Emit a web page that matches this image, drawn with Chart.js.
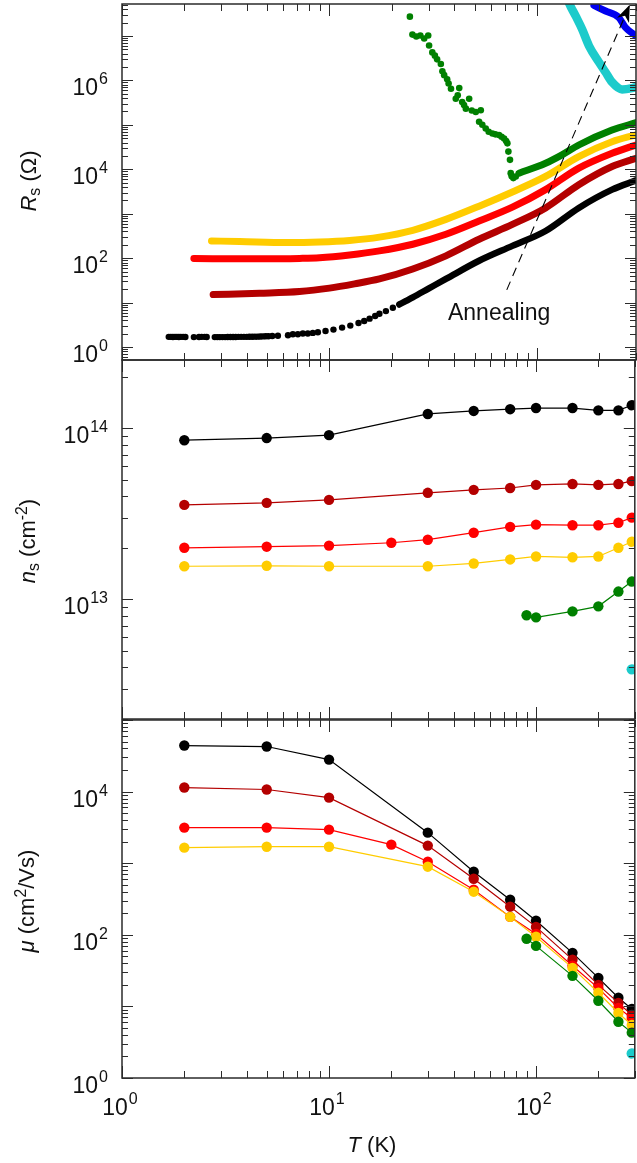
<!DOCTYPE html>
<html><head><meta charset="utf-8">
<script src="https://cdn.jsdelivr.net/npm/chart.js@4/dist/chart.umd.min.js"></script>
<style>
html,body{margin:0;padding:0;background:#fff;width:637px;height:1163px;overflow:hidden;position:relative;font-family:'Liberation Sans',Arial,Helvetica,sans-serif;}
canvas{position:absolute;left:0;}
.yt,.xt{position:absolute;font-size:22px;line-height:1;white-space:nowrap;color:#111;}
.yt{transform:translate(-50%,-50%) rotate(-90deg);}
.xt{transform:translate(-50%,-50%);}
sub{font-size:72%;vertical-align:-0.28em;line-height:0;}
sup{font-size:72%;vertical-align:0.5em;line-height:0;}
</style></head>
<body>
<canvas id="cA" width="640" height="370" style="top:0px"></canvas>
<canvas id="cB" width="640" height="380" style="top:350px"></canvas>
<canvas id="cC" width="640" height="453" style="top:710px"></canvas>
<div class="yt" style="left:29px;top:181px"><i>R</i><sub>s</sub> (Ω)</div>
<div class="yt" style="left:28px;top:541px"><i>n</i><sub>s</sub> (cm<sup>-2</sup>)</div>
<div class="yt" style="left:27px;top:901px"><i>μ</i> (cm<sup>2</sup>/Vs)</div>
<div class="xt" style="left:372px;top:1145px"><i>T</i> (K)</div>
<script>
// ---------------- DATA ----------------
// Panel 1: sheet resistance R_s (Ohm) vs T (K)
const T_black_dots = [1.68,1.72,1.76,1.8,1.84,1.88,1.92,1.97,2.02,2.22,2.35,2.42,2.5,2.56,2.8,2.88,2.96,3.05,3.14,3.23,3.33,3.43,3.53,3.64,3.75,3.87,3.99,4.11,4.24,4.37,4.5,4.64,4.78,4.93,5.08,5.3,5.64,6.31,6.66,7.04,7.44,7.86,8.31,8.79,9.57,10.45,11.5,12.6,13.8,14.7,15.6,16.6,17.4,18.7,20.2];
const R_black_dots = [1.70,1.70,1.69,1.70,1.70,1.69,1.70,1.70,1.69,1.68,1.69,1.70,1.70,1.69,1.68,1.68,1.68,1.68,1.68,1.69,1.69,1.69,1.69,1.70,1.70,1.70,1.70,1.71,1.71,1.72,1.72,1.73,1.74,1.75,1.76,1.78,1.80,1.85,1.95,1.95,2.02,2.02,2.09,2.16,2.31,2.48,2.75,3.05,3.49,3.87,4.37,5.0,5.65,6.46,7.69];
const T_black_R = [21.7,23.4,25.2,30,36.4,52.6,76.1,110,159,230,300];
const R_black = [9.1,11.0,13.2,20.7,34.1,87.5,189,409,1354,3486,5620];
const T_darkred_R = [2.75,4.6,7.17,10,13.2,17.4,25.2,36.4,52.6,76.1,110,159,230,300];
const R_darkred = [15.2,16.3,17.8,21.2,26.4,34.1,57.1,113,267,577,1354,4508,11550,17700];
const T_red_R = [2.22,4.13,7.17,8.95,12.5,17.4,25.2,36.4,52.6,76.1,110,159,230,300];
const R_red = [98,97.5,99,102,118,146,206,345,684,1403,3486,10590,22900,35200];
const T_yellow_R = [2.7,3.69,6.21,8.95,12.5,17.4,25.2,36.4,52.6,76.1,110,159,230,300];
const R_yellow = [244,238,226,232,251,298,424,746,1479,3085,6910,19300,41700,59800];
const T_green_scatter = [24.4,25.1,26.2,27.4,28.6,29.9,30.2,31.3,32.2,33.0,34.4,35.0,35.7,36.9,37.5,38.5,40.6,42.2,41.5,43.6,44.5,45.4,47.1,48.5,50.7,53.6,52.6,54.5,56.6,58.5,61.0,63.0,65.6,67.5,69.4,71.0,72.0,72.8,74.1,74.7,75.5,76.9,79.0];
const R_green_scatter = [2.71e7,1.07e7,9.7e6,1.02e7,8.75e6,1.02e7,6.1e6,4.26e6,3.6e6,2.97e6,2.33e6,1.6e6,1.31e6,1.06e6,8.5e5,6.46e5,3.87e5,6.7e5,4.6e5,3.26e5,2.8e5,2.31e5,3.87e5,2.1e5,1.95e5,2.13e5,1.17e5,1.0e5,8.26e4,7.0e4,6.4e4,6.1e4,5.89e4,5.4e4,4.94e4,4.3e4,3.83e4,2.5e4,1.63e4,8180,7000,6330,6900];
const T_green_R = [81.9,110,132,159,230,300];
const R_green = [8180,13700,21100,35200,76200,112000];
const T_cyan_R = [140,142.5,153.5,165,178,199,214,230,257,287,300];
const R_cyan = [7e7,5.57e7,2.81e7,1.41e7,6.0e6,2.55e6,1.52e6,9.1e5,6.27e5,6.7e5,7.1e5];
const T_blue_R = [188,214,248,267,300];
const R_blue = [4.84e7,3.63e7,2.58e7,1.54e7,1.0e7];
const T_arrow = [71.5,280];
const R_arrow = [19.4,5.0e7];
const annealLabel = {text:'Annealing', T:65.7, R:5.74};

// Panels 2 and 3: Hall data
const T_hall = [2,5,10,30,50,75,100,150,200,250,290];
const T_hall_red = [2,5,10,20,30,50,75,100,150,200,250,290];
const T_hall_green = [90,100,150,200,250,290];
const T_hall_cyan = [290];
const n_black = [8.5e13,8.75e13,9.1e13,1.21e14,1.26e14,1.29e14,1.31e14,1.31e14,1.27e14,1.27e14,1.36e14];
const n_darkred = [3.56e13,3.66e13,3.81e13,4.19e13,4.36e13,4.47e13,4.66e13,4.72e13,4.66e13,4.72e13,4.9e13];
const n_red = [2.0e13,2.03e13,2.06e13,2.14e13,2.23e13,2.45e13,2.65e13,2.73e13,2.71e13,2.71e13,2.8e13,3.0e13];
const n_yellow = [1.56e13,1.57e13,1.56e13,1.56e13,1.62e13,1.71e13,1.78e13,1.76e13,1.78e13,2.0e13,2.17e13];
const n_green = [8.07e12,7.85e12,8.5e12,9.1e12,1.11e13,1.27e13];
const n_cyan = [3.9e12];
const mu_black = [4.4e4,4.26e4,2.8e4,2670,760,309,157,56,25,13.2,9.2];
const mu_darkred = [1.14e4,1.07e4,8240,1760,607,247,129,45,20,11.2,7.6];
const mu_red = [3140,3140,2940,1815,1050,427,178,103,37,18,9.5,6.9];
const mu_yellow = [1650,1700,1700,894,400,178,94,34.5,15.5,8.1,5.5];
const mu_green = [88,70,26.7,12,6.1,4.3];
const mu_cyan = [2.2];

// tick label exponents
const xTickExps = [0,1,2];
const rTickExps = [0,2,4,6];
const nTickExps = [13,14];
const muTickExps = [0,2,4];

// ---------------- STYLE ----------------
const FONT = "'Liberation Sans', Arial, Helvetica, sans-serif";
const C = {black:'#000000', darkred:'#b40000', red:'#ff0000', yellow:'#ffcc00', green:'#008000', cyan:'#1ccbcb', blue:'#0000f0'};
const pts = (T,V) => T.map((t,i)=>({x:t,y:V[i]}));

function pow10(ctx, e, x, yBase, align){
  ctx.font = '23px '+FONT; const wb = ctx.measureText('10').width;
  ctx.font = '16px '+FONT; const we = ctx.measureText(String(e)).width;
  const total = wb + 1 + we;
  const x0 = align === 'right' ? x - total : x - total/2;
  ctx.font = '23px '+FONT; ctx.fillText('10', x0, yBase);
  ctx.font = '16px '+FONT; ctx.fillText(String(e), x0 + wb + 1, yBase - 11);
}

const framePlugin = {
  id:'sciFrame',
  afterDraw(chart){
    const o = chart.options.plugins.sciFrame; if(!o) return;
    const ctx = chart.ctx, a = chart.chartArea, xs = chart.scales.x, ys = chart.scales.y;
    const decTicks = s => { const out=[]; const e0=Math.floor(Math.log10(s.min)), e1=Math.ceil(Math.log10(s.max));
      for(let e=e0;e<=e1;e++) for(let m=1;m<=9;m++){ const v=m*Math.pow(10,e); if(v>=s.min*0.9999 && v<=s.max*1.0001) out.push([v,m===1]); } return out; };
    ctx.save();
    ctx.strokeStyle = '#2b2b2b'; ctx.lineWidth = 1;
    ctx.beginPath();
    for(const [v,maj] of decTicks(ys)){ const p=Math.round(ys.getPixelForValue(v))+0.5; const L=maj?11:6;
      ctx.moveTo(a.left,p); ctx.lineTo(a.left+L,p); ctx.moveTo(a.right,p); ctx.lineTo(a.right-L,p); }
    for(const [v,maj] of decTicks(xs)){ const p=Math.round(xs.getPixelForValue(v))+0.5; const L=maj?12:7;
      ctx.moveTo(p,a.top); ctx.lineTo(p,a.top+L); ctx.moveTo(p,a.bottom); ctx.lineTo(p,a.bottom-L); }
    ctx.stroke();
    ctx.lineWidth = 1.5; ctx.strokeRect(a.left, a.top, a.right-a.left, a.bottom-a.top);
    ctx.fillStyle = '#111'; ctx.textAlign = 'left'; ctx.textBaseline = 'alphabetic';
    for(const e of o.yExps){ const p=ys.getPixelForValue(Math.pow(10,e)); pow10(ctx,e,a.left-14,p+15,'right'); }
    if(o.xExps) for(const e of o.xExps){ const p=xs.getPixelForValue(Math.pow(10,e)); pow10(ctx,e,p-2,a.bottom+37,'center'); }
    ctx.restore();
  }
};

const annotPlugin = {
  id:'annot',
  afterDatasetsDraw(chart){
    const o = chart.options.plugins.annot; if(!o) return;
    const ctx = chart.ctx, xs = chart.scales.x, ys = chart.scales.y;
    const meta = chart.getDatasetMeta(o.arrowIndex);
    const p0 = meta.data[0], p1 = meta.data[1];
    const ang = Math.atan2(p1.y-p0.y, p1.x-p0.x);
    ctx.save();
    ctx.translate(p1.x,p1.y); ctx.rotate(ang);
    ctx.beginPath(); ctx.moveTo(0,0); ctx.lineTo(-17,-6.5); ctx.lineTo(-12,0); ctx.lineTo(-17,6.5); ctx.closePath();
    ctx.fillStyle = '#000'; ctx.fill();
    ctx.restore();
    ctx.save();
    ctx.font = '23px '+FONT; ctx.textAlign='center'; ctx.textBaseline='middle'; ctx.fillStyle='#111';
    ctx.fillText(o.text, xs.getPixelForValue(o.T), ys.getPixelForValue(o.R));
    ctx.restore();
  }
};

function thick(T,R,color,w,order){ return {data:pts(T,R), showLine:true, borderColor:color, backgroundColor:color, borderWidth:w, pointRadius:0, cubicInterpolationMode:'monotone', borderCapStyle:'round', borderJoinStyle:'round', order:order}; }
function dots(T,R,color,r,order){ return {data:pts(T,R), showLine:false, backgroundColor:color, borderColor:color, pointRadius:r, pointBorderWidth:0, order:order}; }
function hall(T,V,color,order){ return {data:pts(T,V), showLine:true, borderColor:color, backgroundColor:color, borderWidth:1.2, pointRadius:5.2, pointBorderWidth:0, pointBackgroundColor:color, order:order}; }

function baseOpts(ymin,ymax,pad,yExps,xExps,extra){
  return {
    responsive:false, animation:false, devicePixelRatio:1,
    layout:{padding:pad},
    scales:{
      x:{type:'logarithmic', min:1, max:300, display:false},
      y:{type:'logarithmic', min:ymin, max:ymax, display:false}
    },
    plugins:Object.assign({legend:{display:false}, tooltip:{enabled:false}, sciFrame:{yExps:yExps, xExps:xExps}}, extra||{})
  };
}

// Panel 1
const dsA = [
  dots(T_black_dots,R_black_dots,C.black,3.2,6),
  thick(T_black_R,R_black,C.black,6.5,6),
  thick(T_darkred_R,R_darkred,C.darkred,7,5),
  thick(T_red_R,R_red,C.red,7,4),
  thick(T_yellow_R,R_yellow,C.yellow,7,3),
  dots(T_green_scatter,R_green_scatter,C.green,3.3,2),
  thick(T_green_R,R_green,C.green,7,2),
  thick(T_cyan_R,R_cyan,C.cyan,8.5,1),
  thick(T_blue_R,R_blue,C.blue,7,1),
  {data:pts(T_arrow,R_arrow), showLine:true, borderColor:'#000', borderWidth:1.1, borderDash:[9,6], pointRadius:0, order:0}
];
new Chart(document.getElementById('cA'), {
  type:'scatter', data:{datasets:dsA},
  options: baseOpts(0.513, 5.22e7, {left:122,right:2,top:1,bottom:10}, rTickExps, null,
    {annot:{arrowIndex:9, text:annealLabel.text, T:annealLabel.T, R:annealLabel.R}}),
  plugins:[framePlugin, annotPlugin]
});

// Panel 2
new Chart(document.getElementById('cB'), {
  type:'scatter',
  data:{datasets:[
    hall(T_hall,n_black,C.black,5),
    hall(T_hall,n_darkred,C.darkred,4),
    hall(T_hall_red,n_red,C.red,3),
    hall(T_hall,n_yellow,C.yellow,2),
    hall(T_hall_green,n_green,C.green,1),
    hall(T_hall_cyan,n_cyan,C.cyan,0)
  ]},
  options: baseOpts(2e12, 2.5e14, {left:122,right:2,top:10,bottom:11}, nTickExps, null),
  plugins:[framePlugin]
});

// Panel 3
new Chart(document.getElementById('cC'), {
  type:'scatter',
  data:{datasets:[
    hall(T_hall,mu_black,C.black,5),
    hall(T_hall,mu_darkred,C.darkred,4),
    hall(T_hall_red,mu_red,C.red,3),
    hall(T_hall,mu_yellow,C.yellow,2),
    hall(T_hall_green,mu_green,C.green,1),
    hall(T_hall_cyan,mu_cyan,C.cyan,0)
  ]},
  options: baseOpts(1, 1e5, {left:122,right:2,top:10,bottom:85}, muTickExps, xTickExps),
  plugins:[framePlugin]
});
</script>
</body></html>
